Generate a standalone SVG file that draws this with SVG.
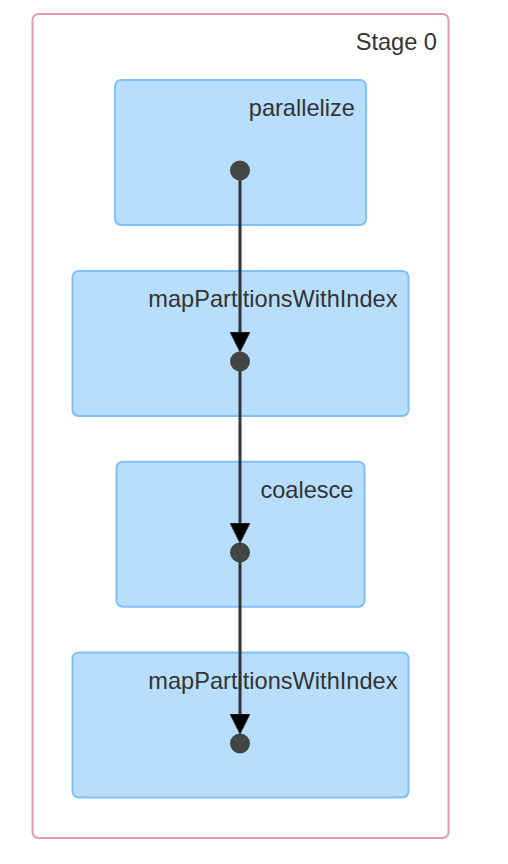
<svg xmlns="http://www.w3.org/2000/svg" width="508" height="864" viewBox="0 0 508 864">
<style>
.stage{fill:#ffffff;stroke:#e59aae;stroke-width:2}
.node rect{fill:#b8defe;stroke:#80c0f6;stroke-width:2}
text{font-family:"Liberation Sans",Arial,sans-serif;font-size:23.6px;fill:#333333;text-anchor:end}
.dot{fill:#444444}
.edge{stroke:#333333;stroke-width:3;fill:none}
</style>
<defs>
<marker id="arrow" viewBox="0 0 10 10" refX="5" refY="5" markerWidth="20" markerHeight="20" markerUnits="userSpaceOnUse" orient="auto">
<path d="M0,0 L10,5 L0,10 z" fill="#000000" stroke="#333333" stroke-width="0.5"/>
</marker>
</defs>
<rect width="508" height="864" fill="#ffffff"/>
<g id="stage0">
<rect class="stage" x="32.5" y="14" width="416" height="824" rx="6"/>
<text x="437" y="50">Stage 0</text>
</g>
<g id="node-parallelize" class="node">
<rect x="115" y="80" width="251" height="145" rx="6"/>
<text x="355" y="116">parallelize</text>
</g>
<g id="node-mapPartitionsWithIndex-1" class="node">
<rect x="72.5" y="271" width="336" height="145" rx="6"/>
<text x="397.5" y="307">mapPartitionsWithIndex</text>
</g>
<g id="node-coalesce" class="node">
<rect x="116.5" y="461.7" width="248" height="145" rx="6"/>
<text x="353.5" y="498">coalesce</text>
</g>
<g id="node-mapPartitionsWithIndex-2" class="node">
<rect x="72.5" y="652.5" width="336" height="145" rx="6"/>
<text x="397.5" y="689">mapPartitionsWithIndex</text>
</g>
<g id="edges">
<path class="edge" d="M240,170.5 L240,342" marker-end="url(#arrow)"/>
<path class="edge" d="M240,361.5 L240,533" marker-end="url(#arrow)"/>
<path class="edge" d="M240,552.5 L240,724" marker-end="url(#arrow)"/>
</g>
<g id="dots">
<circle class="dot" cx="240" cy="170.5" r="10"/>
<circle class="dot" cx="240" cy="361.5" r="10"/>
<circle class="dot" cx="240" cy="552.5" r="10"/>
<circle class="dot" cx="240" cy="743.5" r="10"/>
</g>
</svg>
